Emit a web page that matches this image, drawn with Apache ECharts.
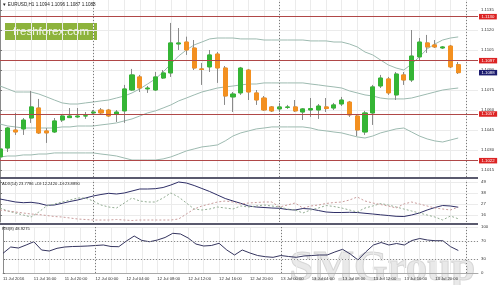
<!DOCTYPE html>
<html><head><meta charset="utf-8">
<script src="https://cdn.jsdelivr.net/npm/echarts@6/dist/echarts.min.js"></script>
<style>html,body{margin:0;padding:0;background:#fff}#c{width:500px;height:285px}</style>
</head><body><div id="c"></div>
<script>
// ---- Data (EURUSD H1, 11 Jul 12:00 .. 13 Jul 23:00; index = hours from 11 Jul 12:00) ----
const openP  = [1.10248,1.10315,1.10450,1.10458,1.10540,1.10615,1.10443,1.10435,1.10525,1.10543,
                1.10548,1.10555,1.10578,1.10600,1.10600,1.10570,1.10593,1.10750,1.10848,1.10758,
                1.10750,1.10840,1.10878,1.11095,1.11110,1.11065,1.10908,1.10923,1.11020,1.10915,
                1.10698,1.10728,1.10900,1.10728,1.10690,1.10623,1.10608,1.10619,1.10623,1.10585,
                1.10600,1.10600,1.10623,1.10615,1.10645,1.10660,1.10555,1.10435,1.10578,1.10780,
                1.10833,1.10713,1.10863,1.10825,1.10998,1.11103,1.11088,1.11065,1.11080,1.10940];
const closeP = [1.10308,1.10465,1.10435,1.10525,1.10623,1.10428,1.10428,1.10518,1.10555,1.10555,
                1.10555,1.10557,1.10585,1.10578,1.10555,1.10585,1.10758,1.10863,1.10765,1.10765,
                1.10848,1.10878,1.11103,1.11103,1.11050,1.10915,1.10904,1.11013,1.10915,1.10705,
                1.10720,1.10915,1.10735,1.10675,1.10600,1.10593,1.10623,1.10623,1.10593,1.10608,
                1.10611,1.10630,1.10611,1.10638,1.10675,1.10563,1.10450,1.10578,1.10773,1.10840,
                1.10728,1.10870,1.10825,1.11005,1.11110,1.11073,1.11073,1.11073,1.10923,1.10880];
const lowP   = [1.10225,1.10285,1.10413,1.10413,1.10503,1.10420,1.10353,1.10428,1.10510,1.10540,
                1.10540,1.10533,1.10563,1.10570,1.10548,1.10510,1.10503,1.10743,1.10735,1.10728,
                1.10743,1.10833,1.10848,1.11050,1.11013,1.10900,1.10788,1.10885,1.10803,1.10638,
                1.10585,1.10713,1.10675,1.10638,1.10593,1.10585,1.10585,1.10608,1.10585,1.10525,
                1.10548,1.10533,1.10585,1.10600,1.10630,1.10548,1.10405,1.10413,1.10488,1.10765,
                1.10713,1.10675,1.10788,1.10810,1.10975,1.11028,1.11065,1.11058,1.10915,1.10870];
const highP  = [1.10330,1.10473,1.10578,1.10540,1.10743,1.10683,1.10465,1.10540,1.10570,1.10615,
                1.10615,1.10585,1.10600,1.10615,1.10608,1.10600,1.10788,1.10908,1.10863,1.10780,
                1.10885,1.10900,1.11253,1.11215,1.11150,1.11125,1.10953,1.11050,1.11035,1.10930,
                1.10735,1.10923,1.10908,1.10750,1.10705,1.10630,1.10653,1.10638,1.10675,1.10615,
                1.10690,1.10645,1.10690,1.10653,1.10698,1.10668,1.10570,1.10593,1.10788,1.10863,
                1.10848,1.10885,1.10885,1.11200,1.11140,1.11163,1.11125,1.11080,1.11088,1.10960];
const bbUpper = [1.10780,1.10758,1.10735,1.10735,1.10735,1.10720,1.10698,1.10675,1.10653,1.10645,
                 1.10645,1.10653,1.10660,1.10668,1.10675,1.10690,1.10705,1.10728,1.10758,1.10795,
                 1.10833,1.10885,1.10945,1.11005,1.11050,1.11088,1.11110,1.11133,1.11140,1.11140,
                 1.11140,1.11133,1.11133,1.11133,1.11125,1.11125,1.11125,1.11125,1.11125,1.11125,
                 1.11118,1.11118,1.11118,1.11110,1.11110,1.11095,1.11073,1.11035,1.11013,1.10975,
                 1.10938,1.10915,1.10900,1.10945,1.10998,1.11058,1.11095,1.11125,1.11140,1.11148];
const bbMiddle = [1.10495,1.10480,1.10473,1.10465,1.10465,1.10465,1.10465,1.10465,1.10473,1.10473,
                  1.10480,1.10480,1.10480,1.10488,1.10495,1.10503,1.10518,1.10533,1.10555,1.10578,
                  1.10593,1.10615,1.10638,1.10668,1.10690,1.10713,1.10735,1.10750,1.10765,1.10773,
                  1.10780,1.10788,1.10795,1.10795,1.10803,1.10803,1.10803,1.10803,1.10803,1.10803,
                  1.10795,1.10788,1.10780,1.10773,1.10765,1.10743,1.10728,1.10713,1.10705,1.10690,
                  1.10683,1.10683,1.10683,1.10690,1.10705,1.10720,1.10735,1.10750,1.10758,1.10765];
const bbLower = [1.10248,1.10255,1.10255,1.10263,1.10263,1.10270,1.10270,1.10278,1.10278,1.10278,
                 1.10278,1.10278,1.10278,1.10270,1.10263,1.10255,1.10240,1.10225,1.10225,1.10225,
                 1.10225,1.10233,1.10248,1.10270,1.10293,1.10308,1.10323,1.10330,1.10338,1.10368,
                 1.10405,1.10428,1.10443,1.10458,1.10465,1.10473,1.10473,1.10473,1.10473,1.10473,
                 1.10465,1.10450,1.10443,1.10435,1.10428,1.10413,1.10398,1.10390,1.10405,1.10428,
                 1.10443,1.10458,1.10465,1.10435,1.10405,1.10383,1.10368,1.10360,1.10375,1.10390];
const adxMain = [32,30.5,29,28.3,28.7,27.7,25.7,26,27.7,29.5,31,33,35,36.5,37.7,37,38,40,42,42,
                 42.3,43.5,46,49,48,45.5,42.5,39.5,36,32.5,30,27.7,25,24,23.5,23,22.7,21.5,21,22.5,
                 22,20.5,19,18.5,18.5,18.7,18.5,17.7,17,16.2,15.5,14.7,14.5,16,18,21,23.5,25.5,25,23.78];
const plusDI  = [23,20,18,16,14,19,25,27,29,31,33,33,30,26,24,23,28,33,30,29,
                 29,33,38,34,28,22,21,22,24,23,22,25,24,25,26,25,24,22,21,18,
                 21,23,25.5,24.5,23,21,19,23,25,27.5,26,24,22,20,18,16,14,11,15,12.24];
const minusDI = [21,20,19,18,17,16.5,15.5,14.5,14,13,12,11.5,11,11,11,11.5,11,10.5,11,11,
                 11,11,11,12,17,22,25,27,29,30,29,27,28,28.5,29,29,24,26,28,23,
                 25,26,27.5,28.5,29,31,34,30,28,26.5,25,23,27,29,27,25,23,22,21,23.89];
const rsi     = [42.8,56.5,54.3,60.9,68,50,47.8,53.7,56.5,57.6,58,58.7,59.8,60.9,57.6,57.2,69.6,80.4,70.7,68,
                 71.7,77.2,86.3,84.8,76,63,58.7,59.8,64.6,50,39.1,50,43.5,38,35.4,34.1,38,35.9,34.1,37,
                 38,39.1,39.1,45.7,51.5,41.3,28.3,45.7,60.9,66.3,60.9,64.1,60.9,70.7,75,71.7,70.2,70.2,57.2,48.93];
const levelLines = [1.1130, 1.1097, 1.1057, 1.1022];
const daySeparators = [12, 36, 60];
const priceTicks = [1.1015,1.1030,1.1045,1.1060,1.1075,1.1090,1.1105,1.1120,1.1135];
const adxTicks = [16,27,38,49];
const rsiTicks = [0,30,70,100];
const rsiLevels = [30,70];
const gridHours = [0,2,4,6,8,10,12,14,16,18,20,22,24,26,28,30,32,34,36,38,40,42,44,46,48,50,52,54,56,58,60];
const tickHours = [0,4,8,12,16,20,24,28,32,36,40,44,48,52,56];
const tickLabels = ['11 Jul 2016','11 Jul 16:00','11 Jul 20:00','12 Jul 00:00','12 Jul 04:00','12 Jul 08:00',
                    '12 Jul 12:00','12 Jul 16:00','12 Jul 20:00','13 Jul 00:00','13 Jul 04:00','13 Jul 08:00',
                    '13 Jul 12:00','13 Jul 16:00','13 Jul 20:00'];
const adxHeader = 'ADX(14) 23.7786 +DI:12.2420 -DI:23.8890';
const rsiHeader = 'RSI(8) 48.9275';

// ---- build ----
const last = openP.length - 1;
const bid = closeP[last];
const headerText = '\u25BC EURUSD,H1 ' + openP[last].toFixed(4) + ' ' + highP[last].toFixed(4) + ' ' +
                   lowP[last].toFixed(4) + ' ' + closeP[last].toFixed(4);
const wickData = openP.map((o, i) => [i, o, closeP[i], lowP[i], highP[i]]);
const bodyData = openP.map((o, i) => [i, o, closeP[i], Math.min(o, closeP[i]), Math.max(o, closeP[i])]);
const xy = arr => arr.map((v, i) => [i, v]);

const FONT = 'Liberation Sans';
const LBL = { fontSize: 4.3, color: '#333', fontFamily: FONT };
const gridLine = { show: true, lineStyle: { color: '#ebebeb', width: 1 } };
const vDots = daySeparators.map(h => ({ xAxis: h, label: { show: false },
  lineStyle: { color: '#7a7a7a', type: [1, 2], width: 1 } }));

function xAxisCfg(idx, showLabels) {
  return {
    type: 'value', gridIndex: idx, min: 0, max: 61.55,
    splitLine: gridLine,
    axisTick: { show: false, customValues: gridHours },
    axisLine: { show: showLabels, lineStyle: { color: '#aaa' } },
    axisLabel: showLabels ? Object.assign({ show: true, customValues: tickHours, align: 'left', margin: 4,
      formatter: v => tickLabels[tickHours.indexOf(v)] || '' }, LBL, { fontSize: 4.2 }) : { show: false }
  };
}
function yAxisCfg(idx, min, max, ticks, fmt) {
  return {
    type: 'value', gridIndex: idx, position: 'right', min: min, max: max,
    splitLine: gridLine,
    axisLine: { show: true, lineStyle: { color: '#8a8a8a' } },
    axisTick: { show: true, length: 2, customValues: ticks, lineStyle: { color: '#777' } },
    axisLabel: Object.assign({ customValues: ticks, margin: 3, formatter: fmt }, LBL)
  };
}

const tagLabel = bg => ({ show: true, position: 'end', distance: 1, formatter: p => Number(p.value).toFixed(4),
  backgroundColor: bg, color: '#fff', fontSize: 4.3, fontFamily: FONT, padding: [1, 2.5, 0.5, 2.5], opacity: 1 });

const option = {
  animation: false,
  backgroundColor: '#ffffff',
  grid: [
    { left: -1.5, right: 22, top: 0, height: 177 },
    { left: -1.5, right: 22, top: 180, height: 42 },
    { left: -1.5, right: 22, top: 227, height: 46 }
  ],
  xAxis: [xAxisCfg(0, false), xAxisCfg(1, false), xAxisCfg(2, true)],
  yAxis: [
    yAxisCfg(0, 1.100975, 1.11425, priceTicks, v => v.toFixed(4)),
    yAxisCfg(1, 9, 51, adxTicks, v => String(v)),
    yAxisCfg(2, 0, 100, rsiTicks, v => String(v))
  ],
  graphic: [
    { type: 'text', left: 2, top: 2.5, z: 10, style: { text: headerText, fontSize: 4.6, fill: '#222', fontFamily: FONT } },
    { type: 'text', left: 2, top: 181.8, z: 10, style: { text: adxHeader, fontSize: 4.1, fill: '#222', fontFamily: FONT } },
    { type: 'text', left: 2, top: 227, z: 10, style: { text: rsiHeader, fontSize: 4.1, fill: '#222', fontFamily: FONT } },
    { type: 'rect', shape: { x: 0, y: 177, width: 478, height: 2 }, z: 10, style: { fill: '#5a5a6e' } },
    { type: 'rect', shape: { x: 0, y: 223, width: 478, height: 2 }, z: 10, style: { fill: '#5a5a6e' } },
    { type: 'group', left: 5, top: 23, z: 1, children: [
      { type: 'rect', shape: { x: 0, y: 0, width: 92, height: 17 }, style: { fill: '#8db33c' } },
      { type: 'text', x: 46, y: 9, style: { text: 'freshforex.com', fontSize: 11.5, fill: '#f2f7e6',
        fontFamily: FONT, align: 'center', verticalAlign: 'middle' } }
    ] },
    { type: 'text', left: 289, top: 247, z: 0, style: { text: 'SMGroup', fontSize: 43, fontWeight: 'bold',
      fontFamily: 'Liberation Serif', fill: 'rgba(215,215,215,0.55)', stroke: 'rgba(165,165,165,0.45)', lineWidth: 1 } }
  ],
  series: [
    { type: 'candlestick', name: 'wicks', xAxisIndex: 0, yAxisIndex: 0, data: wickData,
      encode: { x: 0, y: [1, 2, 3, 4] }, barWidth: 3,
      itemStyle: { color: '#8a8a8a', color0: '#8a8a8a', borderColor: '#8a8a8a', borderColor0: '#8a8a8a', borderWidth: 1 } },
    { type: 'candlestick', name: 'EURUSD', xAxisIndex: 0, yAxisIndex: 0, data: bodyData,
      encode: { x: 0, y: [1, 2, 3, 4] }, barWidth: 4.6,
      itemStyle: { color: '#35b535', color0: '#f39020', borderColor: '#35b535', borderColor0: '#f39020', borderWidth: 1 } },
    { type: 'line', name: 'BB upper', xAxisIndex: 0, yAxisIndex: 0, data: xy(bbUpper), showSymbol: false, z: 1,
      lineStyle: { color: '#9dbab0', width: 1 } },
    { type: 'line', name: 'BB middle', xAxisIndex: 0, yAxisIndex: 0, data: xy(bbMiddle), showSymbol: false, z: 1,
      lineStyle: { color: '#9dbab0', width: 1 } },
    { type: 'line', name: 'BB lower', xAxisIndex: 0, yAxisIndex: 0, data: xy(bbLower), showSymbol: false, z: 1,
      lineStyle: { color: '#9dbab0', width: 1 } },
    { type: 'line', name: 'levels', xAxisIndex: 0, yAxisIndex: 0, data: [], z: 3,
      markLine: { symbol: ['none', 'none'], silent: true, precision: 6,
        data: levelLines.map(v => ({ yAxis: v, lineStyle: { color: '#b04848', width: 1, type: 'solid' }, label: tagLabel('#dc2323') }))
          .concat([{ yAxis: bid, lineStyle: { color: 'rgba(0,0,0,0)', width: 0.01 }, label: tagLabel('#1b1b6e') }])
          .concat(vDots) } },
    { type: 'line', name: 'ADX', xAxisIndex: 1, yAxisIndex: 1, data: xy(adxMain), showSymbol: false,
      lineStyle: { color: '#2e2e66', width: 1 },
      markLine: { symbol: ['none', 'none'], silent: true, data: vDots } },
    { type: 'line', name: '+DI', xAxisIndex: 1, yAxisIndex: 1, data: xy(plusDI), showSymbol: false,
      lineStyle: { color: '#93ad93', width: 1, type: [2, 2] } },
    { type: 'line', name: '-DI', xAxisIndex: 1, yAxisIndex: 1, data: xy(minusDI), showSymbol: false,
      lineStyle: { color: '#c99c9c', width: 1, type: [2, 2] } },
    { type: 'line', name: 'RSI', xAxisIndex: 2, yAxisIndex: 2, data: xy(rsi), showSymbol: false,
      lineStyle: { color: '#35355f', width: 1 },
      markLine: { symbol: ['none', 'none'], silent: true,
        data: rsiLevels.map(v => ({ yAxis: v, label: { show: false }, lineStyle: { color: '#8a8a8a', type: [1, 2], width: 1 } }))
              .concat(vDots) } }
  ]
};
const chart = echarts.init(document.getElementById('c'), null, { renderer: 'canvas' });
chart.setOption(option);
</script>
</body></html>
